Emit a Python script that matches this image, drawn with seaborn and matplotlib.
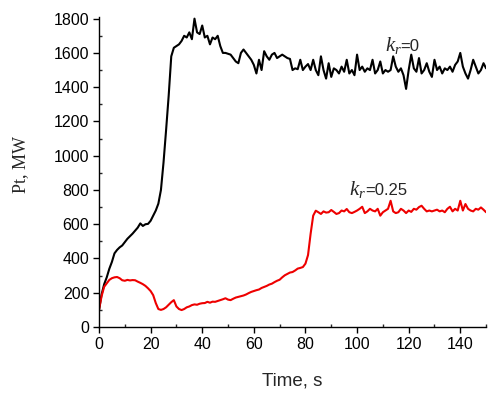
import numpy as np
import pandas as pd
import matplotlib
matplotlib.use("Agg")
import matplotlib.pyplot as plt
import seaborn as sns
from matplotlib.ticker import MultipleLocator

# time axis, s
t = np.arange(0, 151)

# Pt, MW for k_r = 0 (black)
pt_kr0 = [100, 190, 250, 290, 340, 380, 430, 450, 465, 476,
          495, 515, 530, 545, 563, 580, 605, 590, 600, 602,
          620, 650, 680, 720, 800, 960, 1150, 1350, 1580, 1630,
          1640, 1650, 1670, 1700, 1690, 1720, 1680, 1800, 1720, 1710,
          1760, 1690, 1700, 1650, 1690, 1680, 1700, 1640, 1600, 1600,
          1595, 1590, 1570, 1550, 1540, 1600, 1620, 1600, 1580, 1560,
          1530, 1480, 1560, 1500, 1610, 1580, 1560, 1590, 1600, 1570,
          1580, 1590, 1580, 1570, 1565, 1500, 1510, 1505, 1560, 1500,
          1520, 1535, 1500, 1560, 1500, 1470, 1580, 1500, 1450, 1540,
          1460, 1510, 1500, 1480, 1520, 1490, 1560, 1480, 1500, 1470,
          1590, 1500, 1520, 1490, 1510, 1500, 1560, 1480, 1500, 1550,
          1480, 1500, 1490, 1500, 1580, 1520, 1490, 1510, 1470, 1390,
          1500, 1590, 1510, 1490, 1570, 1480, 1500, 1540, 1490, 1460,
          1560, 1500, 1520, 1480, 1510, 1500, 1520, 1490, 1530, 1550,
          1600, 1520, 1480, 1450, 1500, 1560, 1520, 1480, 1500, 1540,
          1510]

# Pt, MW for k_r = 0.25 (red)
pt_kr025 = [100, 180, 235, 255, 275, 285, 290, 292, 285, 273,
            270, 275, 272, 274, 273, 265, 258, 250, 240, 226,
            210, 186, 140, 105, 100, 105, 115, 130, 145, 157,
            120, 105, 99, 105, 115, 120, 128, 132, 130, 136,
            139, 140, 147, 142, 148, 147, 152, 157, 162, 168,
            160, 157, 165, 172, 176, 180, 184, 190, 198, 205,
            210, 215, 219, 228, 234, 240, 248, 253, 262, 270,
            276, 290, 302, 310, 318, 321, 330, 341, 345, 350,
            370, 420, 544, 650, 679, 670, 660, 675, 668, 670,
            683, 672, 660, 665, 680, 675, 689, 670, 665, 672,
            680, 690, 702, 665, 675, 690, 680, 675, 690, 650,
            670, 680, 690, 737, 675, 665, 670, 690, 680, 665,
            680, 672, 690, 685, 700, 708, 690, 675, 680, 675,
            680, 685, 675, 680, 670, 690, 702, 675, 690, 680,
            737, 680, 718, 690, 680, 675, 690, 685, 698, 685,
            670]

df = pd.DataFrame({"t": t, "kr0": pt_kr0, "kr025": pt_kr025})

sns.set_style("white")
plt.rcParams["font.family"] = ["Liberation Sans", "DejaVu Sans"]
plt.rcParams["mathtext.fontset"] = "custom"
plt.rcParams["mathtext.it"] = "Liberation Serif:italic"
plt.rcParams["mathtext.rm"] = "Liberation Serif"

fig = plt.figure(figsize=(4.95, 3.94), dpi=100)
ax = fig.add_axes([0.2, 0.17, 0.782, 0.787])

sns.lineplot(data=df, x="t", y="kr0", color="black", linewidth=1.5, ax=ax)
sns.lineplot(data=df, x="t", y="kr025", color="#ee0000", linewidth=1.5, ax=ax)

ax.set_xlim(0, 150)
ax.set_ylim(0, 1810)
ax.xaxis.set_major_locator(MultipleLocator(20))
ax.xaxis.set_minor_locator(MultipleLocator(10))
ax.yaxis.set_major_locator(MultipleLocator(200))
ax.yaxis.set_minor_locator(MultipleLocator(100))

for s in ["top", "right"]:
    ax.spines[s].set_visible(False)
for s in ["left", "bottom"]:
    ax.spines[s].set_color("black")
    ax.spines[s].set_linewidth(1.0)

ax.tick_params(which="major", direction="out", length=4.5, width=1, pad=2.5,
               labelsize=11.5, colors="black", bottom=True, left=True)
ax.tick_params(which="minor", direction="in", length=2.5, width=1,
               bottom=True, left=True)

ax.set_xlabel("Time, s", fontsize=13.5)
ax.xaxis.set_label_coords(0.499, -0.148)
ax.set_ylabel("Pt, MW", fontsize=13, family="Liberation Serif")
ax.yaxis.set_label_coords(-0.18, 0.523)

# curve labels: italic serif k_r, then "=value" in sans
ax.text(110.9, 1610, r"$k_r$", fontsize=15)
ax.text(116.9, 1610, "=0", fontsize=12)
ax.text(97, 770, r"$k_r$", fontsize=15)
ax.text(103.0, 770, "=0.25", fontsize=12)

fig.savefig("out.png", dpi=100)
